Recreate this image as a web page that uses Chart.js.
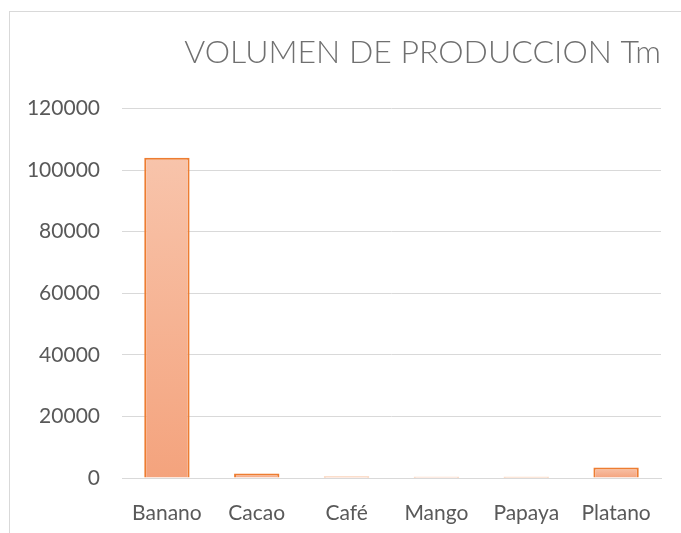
<!DOCTYPE html>
<html>
<head>
<meta charset="utf-8">
<script src="https://cdn.jsdelivr.net/npm/chart.js@4.4.1/dist/chart.umd.min.js"></script>
<style>
  html, body { margin: 0; padding: 0; background: #ffffff; }
  #wrap { position: relative; width: 681px; height: 533px; overflow: hidden; }
  #frame {
    position: absolute; left: 9px; top: 11px; width: 800px; height: 700px;
    border-left: 1px solid #D9D9D9; border-top: 1px solid #D9D9D9;
    box-sizing: border-box; pointer-events: none;
  }
  canvas { position: absolute; left: 0; top: 0; }
</style>
</head>
<body>
<div id="wrap">
  <div id="frame"></div>
  <canvas id="chart" width="681" height="533"></canvas>
</div>
<script>
// chart data
const categories = ['Banano', 'Cacao', 'Café', 'Mango', 'Papaya', 'Platano'];
const volumes = [104000, 1450, 450, 420, 400, 3400];
const yTicks = [0, 20000, 40000, 60000, 80000, 100000, 120000];

const titleText = 'VOLUMEN DE PRODUCCION Tm';
const textColor = '#595959';
const gridColor = '#D9D9D9';

// per-bar vertical gradient, light at the top, darker at the base
function barGradient(context) {
  const chart = context.chart;
  const area = chart.chartArea;
  if (!area || context.type !== 'data') return '#F6B393';
  const yScale = chart.scales.y;
  const top = yScale.getPixelForValue(context.parsed.y);
  const base = yScale.getPixelForValue(0);
  if (!isFinite(top) || Math.abs(base - top) < 1) return '#F5BE9E';
  const g = chart.ctx.createLinearGradient(0, top, 0, base);
  g.addColorStop(0, '#F8C4AB');
  g.addColorStop(1, '#F4A37D');
  return g;
}

new Chart(document.getElementById('chart'), {
  type: 'bar',
  data: {
    labels: categories,
    datasets: [{
      data: volumes,
      backgroundColor: barGradient,
      borderColor: '#ED7D31',
      borderWidth: 2,
      borderSkipped: 'bottom',
      barPercentage: 0.505,
      categoryPercentage: 1
    }]
  },
  options: {
    responsive: false,
    animation: false,
    layout: { padding: { left: 0, right: 20, top: 0, bottom: 0 } },
    plugins: {
      legend: { display: false },
      tooltip: { enabled: false },
      title: {
        display: true,
        text: titleText,
        align: 'end',
        color: '#707070',
        font: { family: 'Lato', size: 32, weight: '300', lineHeight: 1.2 },
        padding: { top: 33, bottom: 37 }
      }
    },
    scales: {
      x: {
        grid: { display: false },
        border: { display: true, color: gridColor, width: 1 },
        ticks: {
          color: textColor,
          font: { family: 'Lato', size: 21 },
          padding: 15,
          maxRotation: 0
        },
        afterFit: function(scale) { scale.height = 55; }
      },
      y: {
        min: 0,
        max: 120000,
        afterBuildTicks: function(scale) {
          scale.ticks = yTicks.map(v => ({ value: v }));
        },
        grid: { color: gridColor, lineWidth: 1, drawTicks: false },
        border: { display: false },
        ticks: {
          color: textColor,
          font: { family: 'Lato', size: 21 },
          padding: 22,
          callback: v => String(v)
        },
        afterFit: function(scale) { scale.width = 122; }
      }
    }
  }
});
</script>
</body>
</html>
